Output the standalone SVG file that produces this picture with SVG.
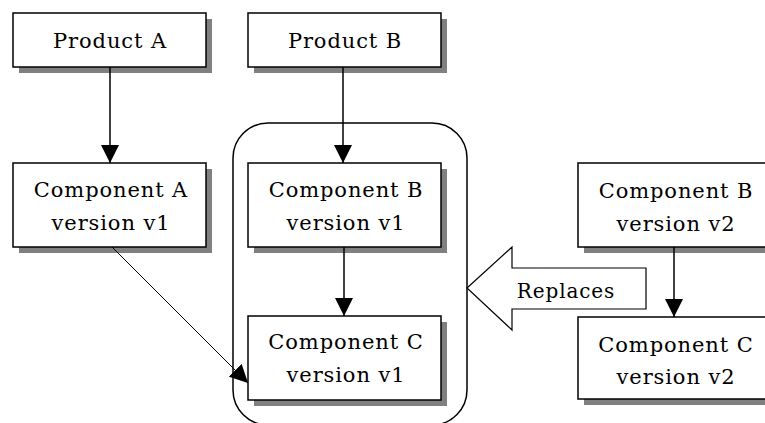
<svg xmlns="http://www.w3.org/2000/svg" width="765" height="423" viewBox="0 0 765 423">
<style>
.shadow{fill:#808080}
.box{fill:#fff;stroke:#000;stroke-width:1.5}
.t{font-family:'DejaVu Serif','Liberation Serif',serif;font-size:21px;letter-spacing:0.9px;fill:#000;text-anchor:middle}
.c{stroke:#000;stroke-width:1.5;fill:none}
</style>
<defs>
<marker id="ah" markerWidth="18" markerHeight="18" viewBox="0 0 18 18" refX="18" refY="9" orient="auto" markerUnits="userSpaceOnUse">
<path d="M0,0 L18,9 L0,18 Z" fill="#000"/>
</marker>
</defs>
<rect width="765" height="423" fill="#fff"/>
<g id="container">
<rect x="233" y="123" width="234" height="302" rx="35" ry="35" fill="none" stroke="#000" stroke-width="1.5"/>
</g>
<g id="productA">
<rect class="shadow" x="19" y="19" width="193" height="54"/>
<rect class="box" x="13" y="13" width="193" height="54"/>
<text class="t" x="110" y="48">Product A</text>
</g>
<g id="productB">
<rect class="shadow" x="254" y="19" width="193" height="54"/>
<rect class="box" x="248" y="13" width="193" height="54"/>
<text class="t" x="345" y="48">Product B</text>
</g>
<g id="componentA">
<rect class="shadow" x="19" y="169" width="193" height="84"/>
<rect class="box" x="13" y="163" width="193" height="84"/>
<text class="t" x="111" y="197">Component A</text>
<text class="t" x="111" y="230">version v1</text>
</g>
<g id="componentB1">
<rect class="shadow" x="254" y="169" width="193" height="84"/>
<rect class="box" x="248" y="163" width="193" height="84"/>
<text class="t" x="346" y="197">Component B</text>
<text class="t" x="346" y="230">version v1</text>
</g>
<g id="componentC1">
<rect class="shadow" x="254" y="322" width="193" height="84"/>
<rect class="box" x="248" y="316" width="193" height="84"/>
<text class="t" x="346" y="349">Component C</text>
<text class="t" x="346" y="382">version v1</text>
</g>
<g id="componentB2">
<rect class="shadow" x="584" y="169" width="193" height="84"/>
<rect class="box" x="578" y="163" width="193" height="84"/>
<text class="t" x="676" y="198">Component B</text>
<text class="t" x="676" y="231">version v2</text>
</g>
<g id="componentC2">
<rect class="shadow" x="584" y="323" width="193" height="82"/>
<rect class="box" x="578" y="317" width="193" height="82"/>
<text class="t" x="676" y="352">Component C</text>
<text class="t" x="676" y="384">version v2</text>
</g>
<g id="replaces">
<path d="M467,288 L512,247 L512,268 L646,268 L646,309 L512,309 L512,330 Z" fill="#fff" stroke="#000" stroke-width="1.2"/>
<text class="t" x="566" y="298" style="font-size:20px">Replaces</text>
</g>
<g id="connectors">
<line class="c" x1="110" y1="67" x2="110" y2="163" marker-end="url(#ah)"/>
<line class="c" x1="343" y1="67" x2="343" y2="163" marker-end="url(#ah)"/>
<line class="c" x1="344" y1="247" x2="344" y2="316" marker-end="url(#ah)"/>
<line class="c" x1="674" y1="247" x2="674" y2="317" marker-end="url(#ah)"/>
<line class="c" style="stroke-width:1" x1="112" y1="247" x2="248" y2="383" marker-end="url(#ah)"/>
</g>
</svg>
